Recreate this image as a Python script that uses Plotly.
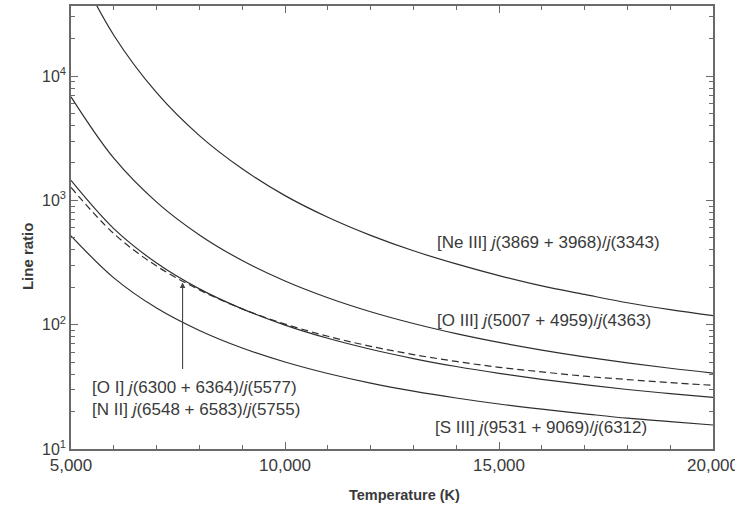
import math
import plotly.graph_objects as go

# Temperatures (K)
temperature = [5000, 6000, 7000, 8000, 9000, 10000, 11000, 12000, 13000,
               14000, 15000, 16000, 17000, 18000, 19000, 20000]

# Line ratios
ne3 = [93000, 21290, 7343, 3315, 1792, 1091, 731, 523, 393, 308, 248, 205, 175, 150, 132, 118]
o3 = [6802, 2182, 968, 527, 328, 224.5, 164.7, 127.1, 102.2, 84.7, 72.0, 62.5, 55.1, 49.3, 44.6, 40.8]
n2 = [1446, 592, 313, 194, 134, 99.2, 77.7, 63.4, 53.4, 46.1, 40.6, 36.3, 32.9, 30.1, 27.9, 26.0]
o1 = [1270, 540, 296, 190.5, 134, 101.1, 80.7, 67.0, 57.5, 50.6, 45.4, 41.7, 38.5, 36.2, 34.2, 32.5]
s3 = [518, 238, 136, 89.8, 64.9, 50.1, 40.5, 33.9, 29.2, 25.7, 23.0, 20.9, 19.2, 17.7, 16.6, 15.6]

x_tickvals = [5000, 10000, 15000, 20000]
x_ticktext = ["5,000", "10,000", "15,000", "20,000"]
y_tickvals = [10, 100, 1000, 10000]
y_ticktext = ["10<sup>1</sup>", "10<sup>2</sup>", "10<sup>3</sup>", "10<sup>4</sup>"]

labels = [
    ("[Ne III] <i>j</i>(3869 + 3968)/<i>j</i>(3343)", 13505, 454),
    ("[O III] <i>j</i>(5007 + 4959)/<i>j</i>(4363)", 13505, 109),
    ("[O I] <i>j</i>(6300 + 6364)/<i>j</i>(5577)", 5444, 31),
    ("[N II] <i>j</i>(6548 + 6583)/<i>j</i>(5755)", 5444, 20.6),
    ("[S III] <i>j</i>(9531 + 9069)/<i>j</i>(6312)", 13458, 14.8),
]

FONT = "Liberation Sans, Arial, sans-serif"
LINE = "#2e2e2e"
TXT = "#3a3a3a"
AX = "#6a6a6a"

fig = go.Figure()
for vals, dash in [(ne3, "solid"), (o3, "solid"), (n2, "solid"), (o1, "7px,4px"), (s3, "solid")]:
    fig.add_trace(go.Scatter(x=temperature, y=vals, mode="lines",
                             line=dict(color=LINE, width=1.2, dash=dash, shape="spline", smoothing=1.0),
                             showlegend=False, hoverinfo="skip"))

for text, xv, yv in labels:
    fig.add_annotation(x=xv, y=math.log10(yv), text=text, showarrow=False, xanchor="left",
                       font=dict(family=FONT, size=17, color=TXT))

# arrow from [O I] label up to the dashed curve
fig.add_annotation(x=7607, y=math.log10(218), ax=0, ay=88, text="", showarrow=True,
                   arrowhead=2, arrowsize=1, arrowwidth=1.1, arrowcolor="#444")

# axis titles
fig.add_annotation(xref="paper", yref="paper", x=-0.083, y=0.436, text="<b>Line ratio</b>",
                   textangle=-90, showarrow=False,
                   font=dict(family=FONT, size=15, color=TXT))
fig.add_annotation(xref="paper", yref="paper", x=0.52, y=-0.104, text="<b>Temperature (K)</b>",
                   showarrow=False, yanchor="middle",
                   font=dict(family=FONT, size=14.5, color=TXT))

minor_y = [m * 10 ** d for d in range(1, 5) for m in range(2, 10)]

fig.update_xaxes(range=[5000, 20000], tickvals=x_tickvals, ticktext=x_ticktext,
                 ticks="inside", ticklen=7, tickcolor=AX, tickwidth=1,
                 minor=dict(dtick=1000, ticks="inside", ticklen=4, tickcolor=AX),
                 showline=True, linecolor=AX, linewidth=1.5, mirror="allticks",
                 showgrid=False, zeroline=False, ticklabeloverflow="allow",
                 tickfont=dict(family=FONT, size=17, color=TXT))
fig.update_yaxes(type="log", range=[1, 4.563], tickvals=y_tickvals, ticktext=y_ticktext,
                 ticks="inside", ticklen=7, tickcolor=AX, tickwidth=1,
                 minor=dict(tickvals=minor_y, ticks="inside", ticklen=4, tickcolor=AX),
                 showline=True, linecolor=AX, linewidth=1.5, mirror="allticks",
                 showgrid=False, zeroline=False, ticklabeloverflow="allow",
                 tickfont=dict(family=FONT, size=16, color=TXT))

fig.update_layout(width=735, height=506, margin=dict(l=71, r=22, t=6, b=57, autoexpand=False),
                  paper_bgcolor="white", plot_bgcolor="white")

fig.write_html("out.html", config={"displayModeBar": False},
               post_script="document.body.style.margin='0';")
